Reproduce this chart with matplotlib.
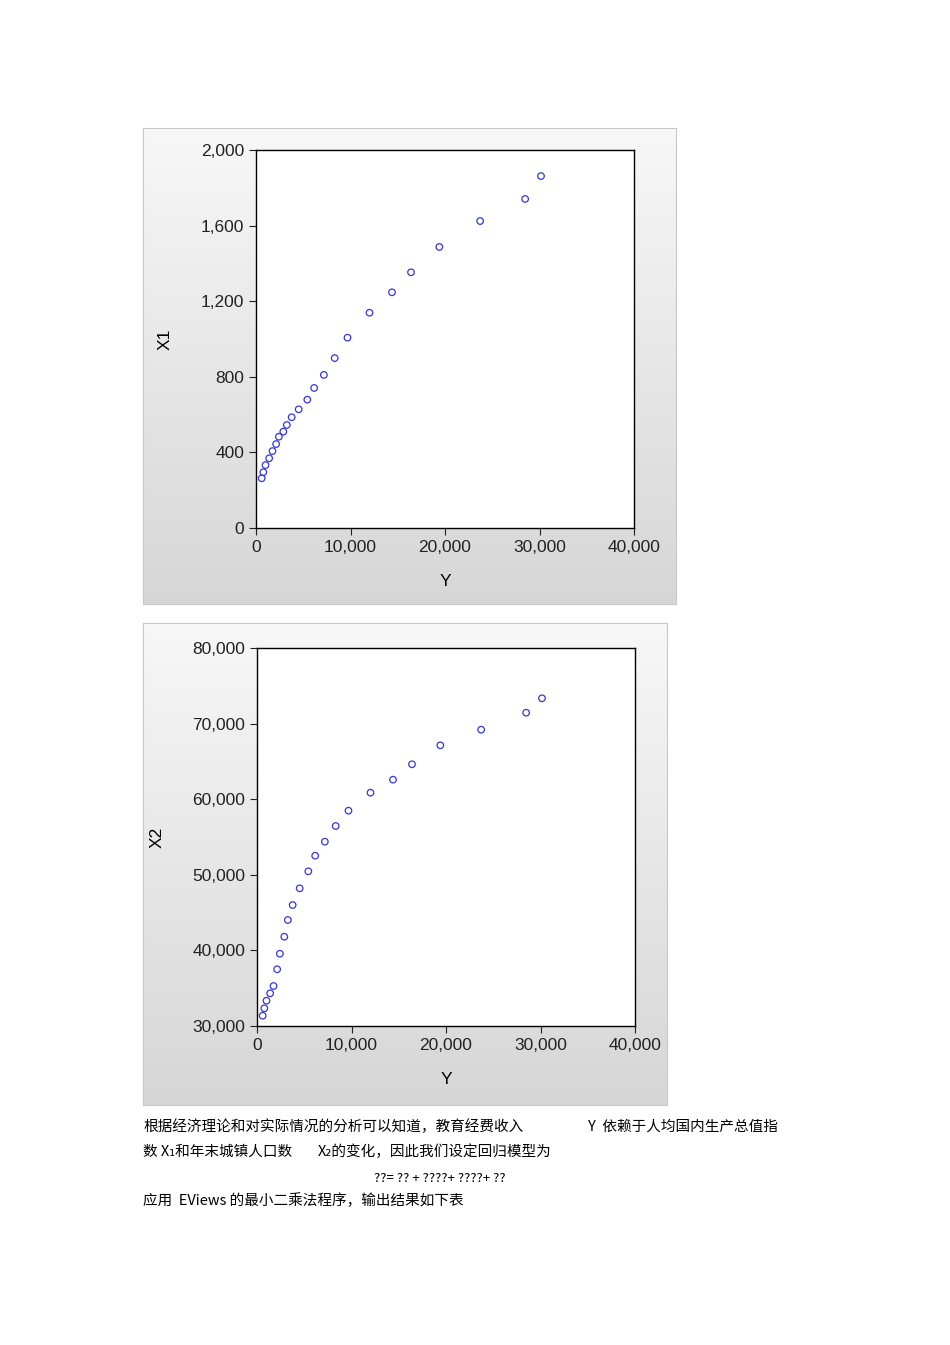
import numpy as np
import matplotlib
matplotlib.use("Agg")
import matplotlib.pyplot as plt
from matplotlib.ticker import FuncFormatter

Y = [30159, 28480, 23720, 19400, 16402, 14392, 12010, 9680, 8325, 7180, 6155, 5430, 4515, 3774, 3260, 2890, 2420, 2130, 1745, 1390, 1005, 773, 600]
X1 = [1862, 1741, 1624, 1487, 1353, 1247, 1139, 1007, 899, 810, 741, 679, 628, 586, 545, 510, 483, 444, 407, 369, 333, 295, 263]
X2 = [73347, 71442, 69193, 67130, 64616, 62580, 60860, 58480, 56455, 54380, 52530, 50460, 48210, 46000, 44020, 41810, 39560, 37500, 35290, 34325, 33350, 32340, 31360]

plt.rcParams['font.family'] = ['Liberation Sans', 'DejaVu Sans']
W, H = 950, 1345
fig = plt.figure(figsize=(9.5, 13.45), dpi=100)

def px(l, t, r, b):
    return [l / W, 1 - b / H, (r - l) / W, (b - t) / H]

fmt = FuncFormatter(lambda v, p: f"{int(v):,}")

def panel(rect, arect, yv, yl, ylim, yticks, ylab_x):
    bg = fig.add_axes(px(*rect))
    grad = np.linspace(0.97, 0.84, 256).reshape(-1, 1)
    bg.imshow(np.dstack([grad] * 3), aspect='auto', extent=[0, 1, 0, 1])
    bg.set_xticks([]); bg.set_yticks([])
    for s in bg.spines.values():
        s.set_color('#c8c8c8')
    ax = fig.add_axes(px(*arect))
    ax.scatter(Y, yv, s=22, facecolors='none', edgecolors='#3535e0', linewidths=0.9)
    ax.set_xlim(0, 40000); ax.set_ylim(*ylim)
    ax.set_xticks([0, 10000, 20000, 30000, 40000])
    ax.set_yticks(yticks)
    ax.xaxis.set_major_formatter(fmt); ax.yaxis.set_major_formatter(fmt)
    ax.tick_params(labelsize=12.5, length=5, direction='out', colors='#222222')
    for s in ax.spines.values():
        s.set_linewidth(1.0)
    ax.set_xlabel('Y', fontsize=12.5, labelpad=14)
    ax.set_ylabel(yl, fontsize=12.5, labelpad=20)
    return ax

panel((143, 128, 676, 604), (256, 150, 634, 528), X1, 'X1', (0, 2000), [0, 400, 800, 1200, 1600, 2000], 168)
panel((143, 623, 667, 1105), (257, 648, 635, 1026), X2, 'X2', (30000, 80000), [30000, 40000, 50000, 60000, 70000, 80000], 160)

cjk = ['Noto Sans CJK SC', 'DejaVu Sans']
fs = 10.5
fig.text(143 / W, 1 - 1127 / H, '根据经济理论和对实际情况的分析可以知道，教育经费收入', family=cjk, fontsize=fs, va='center')
fig.text(588 / W, 1 - 1127 / H, 'Y  依赖于人均国内生产总值指', family=cjk, fontsize=fs, va='center')
fig.text(143 / W, 1 - 1152 / H, '数 X₁和年末城镇人口数', family=cjk, fontsize=fs, va='center')
fig.text(318 / W, 1 - 1152 / H, 'X₂的变化，因此我们设定回归模型为', family=cjk, fontsize=fs, va='center')
fig.text(374 / W, 1 - 1178 / H, '??= ?? + ????+ ????+ ??', family=cjk, fontsize=fs - 1, va='center')
fig.text(143 / W, 1 - 1201 / H, '应用  EViews 的最小二乘法程序，输出结果如下表', family=cjk, fontsize=fs, va='center')

fig.savefig('out.png', dpi=100)
